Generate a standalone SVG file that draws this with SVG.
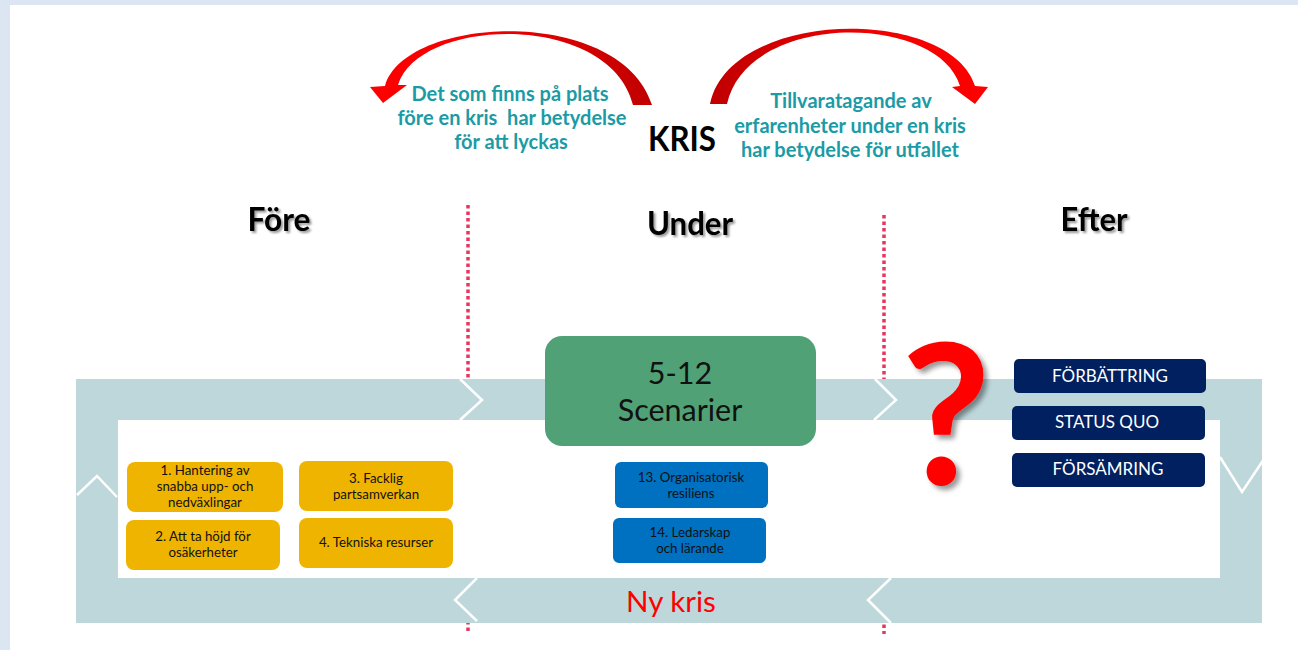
<svg xmlns="http://www.w3.org/2000/svg" width="1298" height="650" viewBox="0 0 1298 650">
<defs>
<style>
.teal{font-family:Lato,"Liberation Sans",sans-serif;font-weight:bold;font-size:20px;fill:#1a9ba6;text-anchor:middle}
.hdr{font-family:Lato,"Liberation Sans",sans-serif;font-weight:bold;font-size:33px;fill:#000;text-anchor:middle;filter:url(#sh)}
.sm{font-family:Lato,"Liberation Sans",sans-serif;font-size:13.3px;fill:#111;text-anchor:middle}
.nv{font-family:Lato,"Liberation Sans",sans-serif;font-size:17px;fill:#fff;text-anchor:middle}
.big{font-family:Lato,"Liberation Sans",sans-serif;font-size:30.5px;fill:#111;text-anchor:middle}
.yel{fill:#efb400}
.blu{fill:#0070c0}
.nvy{fill:#002060}
.chev{fill:none;stroke:#fff;stroke-width:2.5}
.dot{stroke:#e8365d;stroke-width:3.5;stroke-dasharray:3.5 3}
</style>
<linearGradient id="gL" gradientUnits="userSpaceOnUse" x1="370" y1="0" x2="652" y2="0">
<stop offset="0" stop-color="#ff0000"/><stop offset="0.4" stop-color="#f00000"/><stop offset="1" stop-color="#c00000"/>
</linearGradient>
<linearGradient id="gR" gradientUnits="userSpaceOnUse" x1="710" y1="0" x2="988" y2="0">
<stop offset="0" stop-color="#c00000"/><stop offset="0.6" stop-color="#f00000"/><stop offset="1" stop-color="#ff0000"/>
</linearGradient>
<filter id="sh" x="-20%" y="-20%" width="140%" height="140%"><feDropShadow dx="2" dy="2" stdDeviation="1.2" flood-color="#000" flood-opacity="0.4"/></filter>
<filter id="qsh" x="-30%" y="-20%" width="160%" height="140%"><feDropShadow dx="4" dy="4" stdDeviation="2.5" flood-color="#000" flood-opacity="0.4"/></filter>
</defs>
<rect x="0" y="0" width="1298" height="650" fill="#dce6f2"/>
<rect x="10" y="5" width="1288" height="645" fill="#fff"/>

<g id="dividers">
<line class="dot" x1="468" y1="205" x2="468" y2="634"/>
<line class="dot" x1="884" y1="215" x2="884" y2="634"/>
</g>

<g id="band">
<rect x="76" y="379" width="1186" height="244" fill="#bdd7db"/>
<rect x="118" y="420" width="1102" height="158" fill="#fff"/>
<path class="chev" d="M460,379 L482,400 L460,420"/>
<path class="chev" d="M875,379 L896,400 L874,420"/>
<path class="chev" d="M477,578 L455,600 L477,621"/>
<path class="chev" d="M891,578 L868,600 L891,623"/>
<path class="chev" d="M77,495 L97,476 L117,497"/>
<path class="chev" d="M1220,457 L1242,492 L1266,456"/>
</g>

<g id="connectors">
<path fill="url(#gL)" d="M633,105 C610,12 420,16 398,85 L407,85 L383,103 L370,87 L385,86 C405,15 620,5 652,105 Z"/>
<path fill="url(#gR)" d="M710,104 C730,8 950,6 975,86 L988,87 L975,104 L952,87 L960,86 C938,13 748,11 727,104 Z"/>
</g>

<g id="text-left">
<text class="teal" x="510" y="101">Det som finns på plats</text>
<text class="teal" x="512" y="125" xml:space="preserve">före en kris  har betydelse</text>
<text class="teal" x="511" y="149">för att lyckas</text>
</g>
<g id="kris">
<text x="682" y="151" font-family="Lato,'Liberation Sans',sans-serif" font-weight="bold" font-size="35" fill="#000" text-anchor="middle" textLength="68" lengthAdjust="spacingAndGlyphs">KRIS</text>
</g>
<g id="text-right">
<text class="teal" x="851" y="108">Tillvaratagande av</text>
<text class="teal" x="850" y="133">erfarenheter under en kris</text>
<text class="teal" x="850" y="157">har betydelse för utfallet</text>
</g>

<g id="headers">
<text class="hdr" x="279" y="231" textLength="63" lengthAdjust="spacingAndGlyphs">Före</text>
<text class="hdr" x="690" y="235" textLength="86" lengthAdjust="spacingAndGlyphs">Under</text>
<text class="hdr" x="1094" y="231" textLength="67" lengthAdjust="spacingAndGlyphs">Efter</text>
</g>

<g id="scenarier">
<rect x="545" y="336" width="271" height="110" rx="17" fill="#50a276"/>
<text class="big" x="680" y="384">5-12</text>
<text class="big" x="680" y="421">Scenarier</text>
</g>

<g id="n1">
<rect class="yel" x="127" y="462" width="156" height="50" rx="8"/>
<text class="sm" x="205" y="475">1. Hantering av</text>
<text class="sm" x="205" y="491">snabba upp- och</text>
<text class="sm" x="205" y="507">nedväxlingar</text>
</g>
<g id="n2">
<rect class="yel" x="126" y="520" width="154" height="50" rx="8"/>
<text class="sm" x="203" y="541">2. Att ta höjd för</text>
<text class="sm" x="203" y="557">osäkerheter</text>
</g>
<g id="n3">
<rect class="yel" x="299" y="461" width="154" height="50" rx="8"/>
<text class="sm" x="376" y="483">3. Facklig</text>
<text class="sm" x="376" y="499">partsamverkan</text>
</g>
<g id="n4">
<rect class="yel" x="299" y="518" width="154" height="50" rx="8"/>
<text class="sm" x="376" y="547">4. Tekniska resurser</text>
</g>

<g id="n13">
<rect class="blu" x="615" y="462" width="153" height="46" rx="6"/>
<text class="sm" x="691" y="482">13. Organisatorisk</text>
<text class="sm" x="691" y="498">resiliens</text>
</g>
<g id="n14">
<rect class="blu" x="613" y="518" width="153" height="45" rx="6"/>
<text class="sm" x="690" y="537">14. Ledarskap</text>
<text class="sm" x="690" y="553">och lärande</text>
</g>

<g id="question">
<text x="946" y="485" font-family="Lato,'Liberation Sans',sans-serif" font-weight="bold" font-size="195" fill="#ff0000" text-anchor="middle" filter="url(#qsh)">?</text>
</g>

<g id="forbattring">
<rect class="nvy" x="1014" y="359" width="192" height="34" rx="5"/>
<text class="nv" x="1110" y="382">FÖRBÄTTRING</text>
</g>
<g id="statusquo">
<rect class="nvy" x="1012" y="406" width="193" height="34" rx="5"/>
<text class="nv" x="1107" y="428">STATUS QUO</text>
</g>
<g id="forsamring">
<rect class="nvy" x="1012" y="453" width="193" height="34" rx="5"/>
<text class="nv" x="1108" y="475">FÖRSÄMRING</text>
</g>

<g id="nykris">
<text x="671" y="612" font-family="Lato,'Liberation Sans',sans-serif" font-size="29.5" fill="#ff0000" text-anchor="middle">Ny kris</text>
</g>
</svg>
